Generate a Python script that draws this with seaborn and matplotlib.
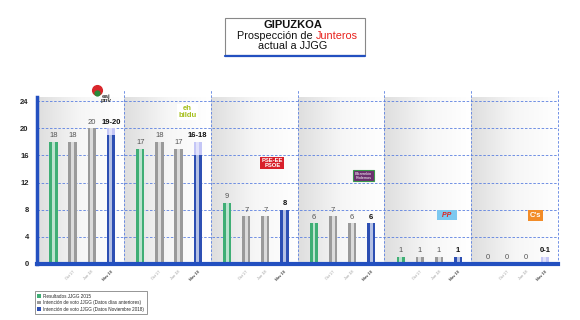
import numpy as np
import pandas as pd
import matplotlib
matplotlib.use("Agg")
import matplotlib.pyplot as plt
import seaborn as sns
from matplotlib.patches import Rectangle, Patch
from matplotlib.lines import Line2D
from matplotlib.colors import LinearSegmentedColormap

# ---------------- data ----------------
parties = ["EAJ-PNV", "EH Bildu", "PSE-EE", "Elkarrekin Podemos", "PP", "Cs"]
series = ["Resultados 2015", "Oct 17", "Jun 18", "Nov 18"]
res_2015 = [18, 17, 9, 6, 1, 0]
oct_17 = [18, 18, 7, 7, 1, 0]
jun_18 = [20, 17, 7, 6, 1, 0]
nov_18_low = [19, 16, 8, 6, 1, 0]
nov_18_high = [20, 18, 8, 6, 1, 1]
nov_18_labels = ["19-20", "16-18", "8", "6", "1", "0-1"]
tick_labels = ["", "Oct 17", "Jun 18", "Nov 18"]
legend_labels = ["Resultados JJGG 2015",
                 "Intención de voto JJGG (Datos días anteriores)",
                 "Intención de voto JJGG (Datos Noviembre 2018)"]

colors = ["#3fae75", "#9a9a9a", "#9a9a9a", "#2d4fb3"]
range_color = "#c4c6f6"
blue = "#2350c0"

rows = []
for s, vals in zip(series, [res_2015, oct_17, jun_18, nov_18_low]):
    for p, v in zip(parties, vals):
        rows.append({"party": p, "serie": s, "value": v})
df = pd.DataFrame(rows)

sns.set_theme(style="white")
plt.rcParams["font.family"] = ["Liberation Sans", "DejaVu Sans"]

fig = plt.figure(figsize=(5.8, 3.2), dpi=100)
ax = fig.add_axes([37 / 580, 1 - 264 / 320, 521 / 580, 167 / 320])

YMAX = 24.6
# gradient panels
cmap = LinearSegmentedColormap.from_list("g", ["#dedede", "#f6f6f6", "#ffffff"])
grad = np.linspace(0, 1, 256).reshape(1, -1)
for i in range(len(parties)):
    ax.imshow(grad, extent=(i - 0.5, i + 0.5, 0, YMAX), aspect="auto",
              cmap=cmap, zorder=0)

sns.barplot(data=df, x="party", y="value", hue="serie", order=parties,
            hue_order=series, palette=colors, width=0.88, dodge=True,
            saturation=1, linewidth=0, legend=False, ax=ax, zorder=3)

W = 0.095
SHIFT = 0.02
for k, cont in enumerate(ax.containers):
    for i, bar in enumerate(cont.patches):
        cx = bar.get_x() + bar.get_width() / 2 + SHIFT
        bar.set_width(W)
        bar.set_x(cx - W / 2)
        h = bar.get_height()
        # cylinder highlight
        ax.add_patch(Rectangle((cx - W * 0.18, 0), W * 0.36, h,
                               facecolor="white", alpha=0.65, lw=0, zorder=4))
        top = h
        if k == 3:
            lo, hi = nov_18_low[i], nov_18_high[i]
            if hi > lo:
                ax.add_patch(Rectangle((cx - W / 2, lo), W, hi - lo,
                                       facecolor=range_color, lw=0, zorder=3))
                ax.add_patch(Rectangle((cx - W * 0.18, lo), W * 0.36, hi - lo,
                                       facecolor="white", alpha=0.5, lw=0, zorder=4))
                top = hi
            ax.text(cx, top + 0.4, nov_18_labels[i], ha="center", va="bottom",
                    fontsize=5.5, fontweight="bold", color="#111111", zorder=6)
        else:
            ax.text(cx, top + 0.4, f"{int(h)}", ha="center", va="bottom",
                    fontsize=5.5, color="#555555", zorder=6)
        if tick_labels[k]:
            ax.text(cx + 0.03, -0.035, tick_labels[k], rotation=45,
                    transform=ax.get_xaxis_transform(), ha="right", va="top",
                    fontsize=2.8, color="#444444" if k == 3 else "#999999",
                    fontweight="bold" if k == 3 else "normal")

# grid
for yv in range(4, 25, 4):
    ax.axhline(yv, color="#5a7fe0", lw=0.6, ls=(0, (3, 2)), zorder=1)
for i in range(len(parties)):
    ax.plot([i + 0.5, i + 0.5], [0, YMAX + 1.2], color="#5a7fe0", lw=0.6,
            ls=(0, (3, 2)), zorder=1, clip_on=False)

ax.set_xlim(-0.5, len(parties) - 0.5)
ax.set_ylim(0, YMAX)
ax.set_yticks(range(0, 25, 4))
ax.set_yticklabels([str(v) for v in range(0, 25, 4)], fontsize=5.5,
                   fontweight="bold")
ax.tick_params(axis="y", length=0, pad=6)
ax.set_xticks([])
ax.set_xlabel("")
ax.set_ylabel("")
for s in ["top", "right"]:
    ax.spines[s].set_visible(False)
ax.spines["left"].set_color(blue)
ax.spines["left"].set_linewidth(2.5)
ax.spines["bottom"].set_color(blue)
ax.spines["bottom"].set_linewidth(3)
ax.spines["left"].set_zorder(5)
ax.spines["bottom"].set_zorder(5)

# party "logos" as text boxes
ax.plot([0.19], [25.6], "o", ms=7, color="#d9262b", clip_on=False, zorder=7)
ax.plot([0.19], [25.2], "o", ms=3.5, color="#2a8a3a", clip_on=False, zorder=7)
ax.text(0.3, 24.4, "eaj\npnv", fontsize=4.5, fontweight="bold", color="#3a3a3a",
        ha="center", va="center", linespacing=0.8, clip_on=False, zorder=7)
ax.text(1.236, 22.4, "eh\nbildu", fontsize=5.5, fontweight="bold",
        color="#a5bf1a", ha="center", va="center", linespacing=0.85, zorder=7,
        bbox=dict(boxstyle="square,pad=0.2", fc="white", ec="none"))
ax.text(2.21, 14.9, "PSE-EE\nPSOE", fontsize=4.2, fontweight="bold",
        color="white", ha="center", va="center", linespacing=0.9, zorder=7,
        bbox=dict(boxstyle="square,pad=0.25", fc="#d8202b", ec="none"))
ax.text(3.26, 13.0, "Elkarrekin\nPodemos", fontsize=2.8, color="white",
        ha="center", va="center", linespacing=0.9, zorder=7,
        bbox=dict(boxstyle="square,pad=0.4", fc="#6b2e6e", ec="#3a9a4a", lw=0.8))
ax.text(4.22, 7.2, "  PP  ", fontsize=5, fontweight="bold", fontstyle="italic",
        color="#e0201b", ha="center", va="center", zorder=7,
        bbox=dict(boxstyle="square,pad=0.2", fc="#7cc8f0", ec="none"))
ax.text(5.24, 7.1, "C's", fontsize=5.5, fontweight="bold", color="white",
        ha="center", va="center", zorder=7,
        bbox=dict(boxstyle="square,pad=0.25", fc="#f28c28", ec="none"))

# title box
fig.add_artist(Rectangle((225 / 580, 1 - 55 / 320), 140 / 580, 37 / 320,
                         transform=fig.transFigure, fc="white", ec="#888888",
                         lw=0.8))
fig.add_artist(Line2D([225 / 580, 365 / 580], [1 - 56 / 320, 1 - 56 / 320],
                      transform=fig.transFigure, color=blue, lw=1.6))
fig.text(293 / 580, 1 - 25 / 320, "GIPUZKOA", ha="center", va="center",
         fontsize=8, fontweight="bold", color="#111111")
fig.text(316 / 580, 1 - 36 / 320, "Prospección de ", ha="right", va="center",
         fontsize=7.8, color="#111111")
fig.text(316 / 580, 1 - 36 / 320, "Junteros", ha="left", va="center",
         fontsize=7.8, color="#e8201b")
fig.text(293 / 580, 1 - 46 / 320, "actual a JJGG", ha="center", va="center",
         fontsize=7.8, color="#111111")

# legend
handles = [Patch(facecolor=colors[0], edgecolor="none"),
           Patch(facecolor=colors[1], edgecolor="none"),
           Patch(facecolor=colors[3], edgecolor="none")]
leg = fig.legend(handles, legend_labels, loc="lower left",
                 bbox_to_anchor=(35 / 580, 1 - 314 / 320), fontsize=3.3,
                 frameon=True, fancybox=False, edgecolor="#666666",
                 handlelength=0.9, handleheight=0.9, handletextpad=0.4,
                 labelspacing=0.35, borderpad=0.5, borderaxespad=0)
leg.get_frame().set_linewidth(0.6)

fig.savefig("out.png", dpi=100, facecolor="white")
